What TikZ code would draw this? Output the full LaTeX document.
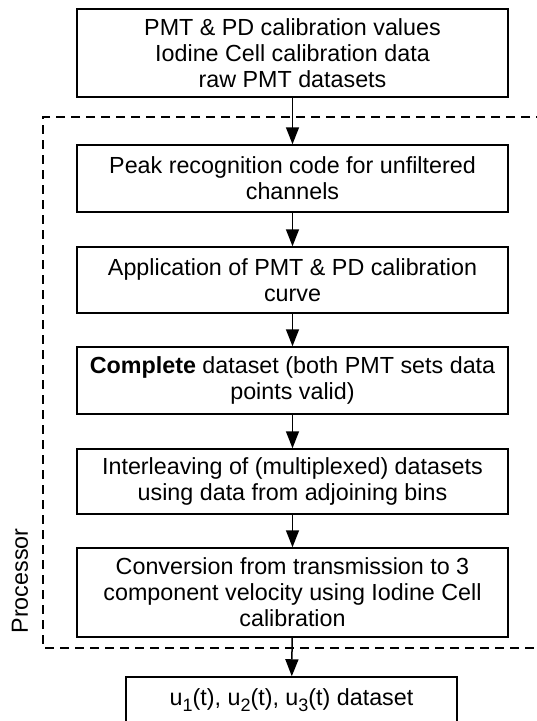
\documentclass[tikz,border=0pt]{standalone}
\usepackage{fontspec}
\setmainfont{Liberation Sans}
\usetikzlibrary{arrows.meta}

\newcommand{\lowsub}[1]{\raisebox{-6pt}{\fontsize{18}{18}\selectfont #1}}

\tikzset{
  procbox/.style={rectangle,draw,line width=1.5pt,align=center,minimum width=431pt,inner sep=0pt},
  flow/.style={line width=1.5pt,-{Triangle[length=17pt,width=13pt,black]}}
}

\begin{document}
\begin{tikzpicture}[x=1pt,y=-1pt,font=\fontsize{23.3}{26}\selectfont]
\useasboundingbox (0,0) rectangle (537,721);
\clip (0,0) rectangle (537,721);

% inputs
\node[procbox,minimum height=88pt] at(292.5,53) (src) {PMT \& PD calibration values\\Iodine Cell calibration data\\raw PMT datasets};

% processor frame
\draw[line width=1.4pt,dash pattern=on 9pt off 6pt] (545,117) -- (43,117) -- (43,648) -- (545,648);
\node[rotate=90] at(20,581) (proclabel) {Processor};

% processing steps
\node[procbox,minimum height=67pt] at(292.5,178.5) (peak) {Peak recognition code for unfiltered\\channels};
\node[procbox,minimum height=66pt] at(292.5,280) (apply) {Application of PMT \& PD calibration\\curve};
\node[procbox,minimum height=67pt] at(292.5,380.5) (complete) {\textbf{Complete} dataset (both PMT sets data\\points valid)};
\node[procbox,minimum height=65pt] at(292.5,481.5) (interleave) {Interleaving of (multiplexed) datasets\\using data from adjoining bins};
\node[procbox,minimum height=89pt] at(292.5,592.5) (convert) {Conversion from transmission to 3\\component velocity using Iodine Cell\\calibration};

% output
\node[procbox,minimum width=331pt,minimum height=66pt] at(291.5,710) (result) {u\lowsub{1}(t), u\lowsub{2}(t), u\lowsub{3}(t) dataset\\\mbox{}};

\draw[flow] (src) -- (peak);
\draw[flow] (peak) -- (apply);
\draw[flow] (apply) -- (complete);
\draw[flow] (complete) -- (interleave);
\draw[flow] (interleave) -- (convert);
\draw[flow] (convert) -- (result);
\end{tikzpicture}
\end{document}
